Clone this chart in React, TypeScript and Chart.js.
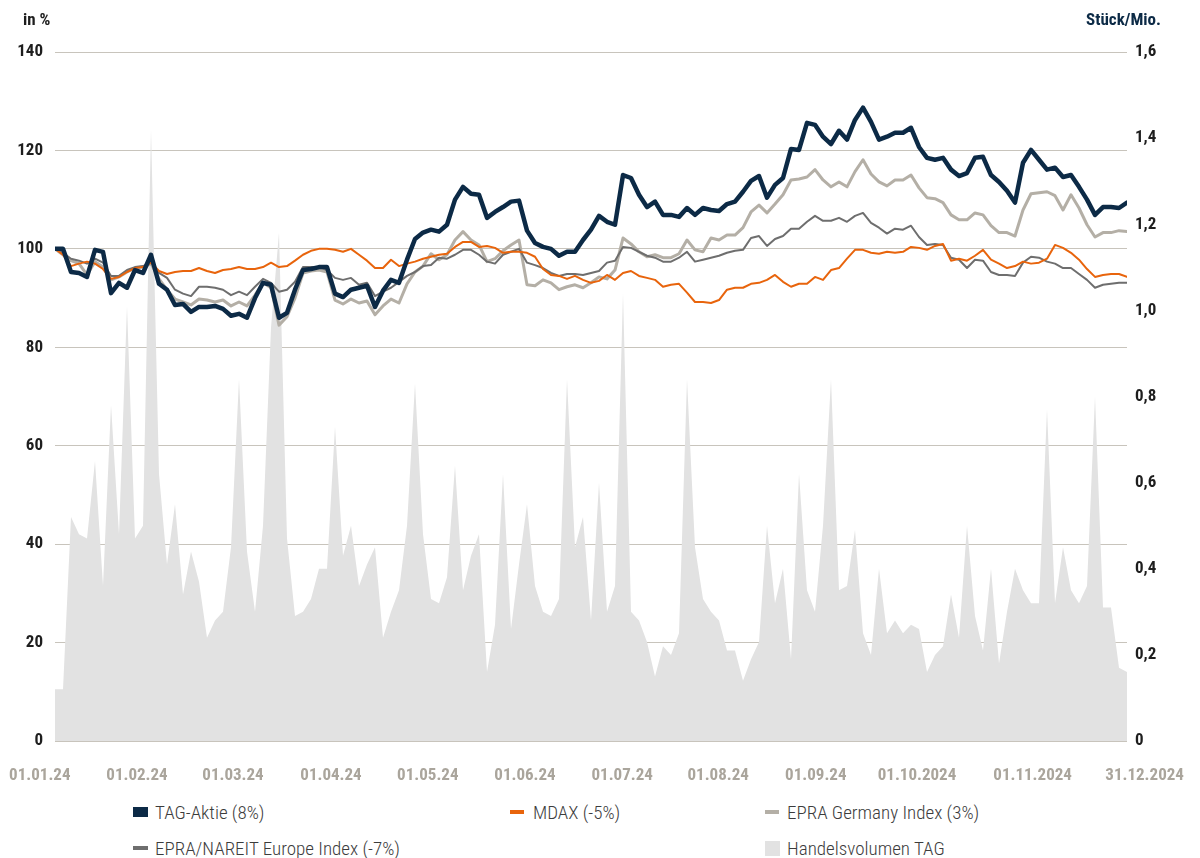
import React, { useEffect, useRef } from 'react';
import { Chart, registerables } from 'chart.js';

Chart.register(...registerables);

// ---------- data ----------
const xTickLabels = [
  '01.01.24', '01.02.24', '01.03.24', '01.04.24', '01.05.24', '01.06.24',
  '01.07.24', '01.08.24', '01.09.24', '01.10.2024', '01.11.2024', '31.12.2024',
];
// where each date label sits, in sample-index units
const xTickAt = [-1.9, 10.25, 22.25, 34.5, 46.6, 58.75, 70.9, 82.9, 95.1, 107.75, 122.2, 136.2];

const tagAktie = [
  100, 100, 95.3, 95.1, 94.3, 99.8, 99.4, 91.0, 93.1, 92.1,
  95.7, 95.1, 98.8, 92.9, 91.7, 88.6, 88.8, 87.2, 88.2, 88.2,
  88.4, 87.8, 86.4, 86.8, 86.0, 90.0, 93.1, 92.7, 86.0, 87.0,
  91.7, 95.7, 95.9, 96.3, 96.3, 90.9, 90.2, 91.7, 92.1, 92.5,
  88.2, 91.5, 93.7, 93.1, 97.8, 102.0, 103.3, 103.9, 103.5, 104.9,
  110.0, 112.6, 111.2, 111.0, 106.3, 107.5, 108.5, 109.6, 109.8, 103.7,
  101.2, 100.4, 100.0, 98.6, 99.4, 99.4, 101.8, 103.9, 106.7, 105.5,
  104.9, 115.0, 114.4, 111.0, 108.5, 109.6, 106.9, 106.9, 106.5, 108.3,
  106.9, 108.3, 107.9, 107.7, 109.1, 109.6, 111.6, 113.8, 114.8, 110.4,
  113.0, 114.4, 120.3, 120.1, 125.6, 125.2, 122.8, 121.3, 124.0, 122.2,
  126.2, 128.7, 125.8, 122.2, 122.8, 123.6, 123.6, 124.6, 120.7, 118.5,
  118.1, 118.5, 116.1, 114.8, 115.4, 118.5, 118.7, 115.0, 113.6, 111.8,
  109.4, 117.5, 120.1, 118.1, 116.1, 116.5, 114.6, 115.0, 112.6, 110.0,
  106.9, 108.5, 108.5, 108.3, 109.4,
];

const mdax = [
  100, 98.8, 96.5, 97.0, 97.4, 97.0, 95.9, 93.9, 94.3, 95.3,
  96.1, 96.3, 97.2, 95.5, 94.9, 95.3, 95.5, 95.5, 96.1, 95.5,
  95.1, 95.7, 95.9, 96.3, 95.9, 95.9, 96.3, 97.2, 96.3, 96.5,
  97.6, 98.8, 99.6, 100.0, 100.0, 99.8, 99.4, 100.0, 98.8, 97.6,
  96.1, 96.1, 97.8, 96.5, 97.0, 97.4, 98.0, 98.4, 98.8, 99.0,
  100.4, 101.4, 101.4, 100.4, 100.6, 100.2, 99.2, 99.4, 99.4, 99.2,
  98.4, 95.9, 94.7, 94.5, 93.9, 94.5, 93.7, 93.1, 93.5, 94.7,
  93.7, 95.1, 95.5, 94.5, 94.1, 93.7, 92.3, 92.7, 92.9, 91.1,
  89.2, 89.2, 89.0, 89.6, 91.7, 92.1, 92.1, 92.9, 93.1, 93.7,
  94.7, 93.3, 92.3, 92.9, 92.9, 94.3, 93.7, 95.7, 96.1, 98.0,
  99.8, 99.8, 99.2, 99.0, 99.4, 99.2, 99.4, 100.4, 100.2, 99.8,
  100.6, 101.0, 97.6, 98.0, 97.6, 98.6, 99.8, 97.8, 97.0, 96.1,
  96.5, 97.4, 97.0, 97.2, 98.0, 100.8, 100.2, 99.2, 97.8, 95.9,
  94.3, 94.7, 94.9, 94.9, 94.3,
];

const epraGermany = [
  100, 98.8, 97.6, 97.0, 94.7, 97.4, 96.3, 93.7, 94.3, 95.3,
  96.1, 96.3, 97.0, 93.9, 91.7, 89.8, 89.2, 88.6, 89.8, 89.6,
  89.2, 89.6, 88.4, 89.2, 88.4, 90.6, 93.1, 92.1, 84.5, 86.2,
  90.0, 95.1, 95.5, 95.7, 95.3, 89.6, 88.8, 89.8, 89.0, 89.4,
  86.6, 88.4, 89.8, 89.0, 92.9, 95.3, 96.5, 99.0, 97.8, 98.8,
  101.8, 103.5, 101.8, 100.8, 97.4, 98.0, 99.6, 100.8, 101.8, 92.7,
  92.5, 93.7, 93.1, 91.7, 92.3, 92.7, 92.1, 93.1, 94.3, 93.9,
  95.7, 102.2, 101.0, 99.4, 98.4, 98.8, 98.2, 98.2, 99.0, 101.8,
  99.8, 99.4, 102.2, 101.8, 102.8, 102.8, 104.3, 107.5, 108.9, 107.3,
  109.1, 111.0, 114.0, 114.2, 114.6, 116.1, 114.0, 112.6, 113.6, 112.6,
  115.7, 118.1, 115.2, 113.6, 112.8, 114.0, 114.0, 115.0, 112.4, 110.4,
  110.2, 109.4, 106.9, 105.9, 105.9, 107.3, 106.9, 104.7, 103.3, 103.3,
  102.6, 107.9, 111.2, 111.4, 111.6, 110.8, 107.9, 111.0, 108.3, 104.9,
  102.4, 103.3, 103.3, 103.7, 103.5,
];

const epraNareit = [
  100, 99.2, 98.0, 97.6, 97.0, 98.0, 97.2, 94.5, 94.5, 95.7,
  96.3, 96.5, 97.2, 95.1, 94.1, 91.7, 90.9, 90.4, 92.3, 92.3,
  92.1, 91.7, 90.6, 91.3, 90.6, 92.3, 93.9, 93.1, 91.3, 91.7,
  93.3, 96.3, 96.3, 96.3, 95.7, 94.1, 93.7, 94.1, 92.7, 93.1,
  90.4, 91.3, 92.1, 93.3, 94.5, 95.3, 96.5, 96.7, 98.2, 98.0,
  98.8, 99.8, 99.8, 98.8, 97.4, 97.0, 98.8, 99.4, 100.0, 97.2,
  96.7, 96.1, 95.1, 94.5, 94.9, 94.9, 94.7, 95.1, 95.5, 97.2,
  97.6, 100.4, 100.2, 99.4, 98.6, 98.2, 97.4, 97.4, 98.2, 99.4,
  97.4, 97.8, 98.2, 98.6, 99.2, 99.6, 99.8, 102.2, 102.6, 100.6,
  102.0, 102.6, 104.1, 104.1, 105.5, 106.7, 105.7, 105.7, 106.3, 105.5,
  106.7, 107.3, 105.3, 104.3, 103.1, 104.1, 103.9, 104.7, 102.4, 100.8,
  101.0, 100.8, 98.2, 97.8, 96.1, 97.8, 97.6, 95.3, 94.7, 94.7,
  94.5, 97.2, 98.4, 98.2, 97.4, 97.0, 96.1, 96.1, 94.9, 93.7,
  92.1, 92.7, 92.9, 93.1, 93.1,
];

// Handelsvolumen TAG, Stück/Mio.
const volumen = [
  0.12, 0.12, 0.52, 0.48, 0.47, 0.65, 0.36, 0.78, 0.48, 1.01,
  0.47, 0.50, 1.42, 0.62, 0.41, 0.55, 0.34, 0.44, 0.37, 0.24,
  0.28, 0.30, 0.45, 0.84, 0.44, 0.30, 0.50, 0.96, 1.18, 0.47,
  0.29, 0.30, 0.33, 0.40, 0.40, 0.73, 0.43, 0.50, 0.36, 0.41,
  0.45, 0.24, 0.30, 0.35, 0.50, 0.83, 0.48, 0.33, 0.32, 0.38,
  0.64, 0.35, 0.43, 0.48, 0.16, 0.27, 0.62, 0.26, 0.41, 0.55,
  0.36, 0.30, 0.29, 0.33, 0.84, 0.45, 0.52, 0.28, 0.60, 0.30,
  0.36, 1.04, 0.30, 0.28, 0.23, 0.15, 0.22, 0.20, 0.25, 0.84,
  0.45, 0.33, 0.30, 0.28, 0.21, 0.21, 0.14, 0.19, 0.23, 0.50,
  0.32, 0.40, 0.19, 0.62, 0.35, 0.30, 0.50, 0.84, 0.35, 0.36,
  0.49, 0.25, 0.20, 0.40, 0.25, 0.28, 0.25, 0.27, 0.26, 0.16,
  0.20, 0.22, 0.34, 0.24, 0.50, 0.29, 0.21, 0.40, 0.18, 0.30,
  0.40, 0.35, 0.32, 0.32, 0.77, 0.32, 0.45, 0.35, 0.32, 0.36,
  0.80, 0.31, 0.31, 0.17, 0.16,
];

const seriesNames = [
  'TAG-Aktie (8%)',
  'MDAX (-5%)',
  'EPRA Germany Index (3%)',
  'EPRA/NAREIT Europe Index (-7%)',
  'Handelsvolumen TAG',
];

// ---------- styles ----------
const FONT = "'Roboto Condensed', 'DejaVu Sans Condensed', 'Liberation Sans Narrow', 'Arial Narrow', Roboto, sans-serif";
const C_TAG = '#0c2a46';
const C_MDAX = '#e8640c';
const C_GER = '#b4afa6';
const C_NAR = '#6e6e6e';
const C_VOL = '#e2e2e2';

const W = 1200;
const CANVAS_H = 795;

export default function App() {
  const canvasRef = useRef<HTMLCanvasElement | null>(null);

  useEffect(() => {
    document.body.style.margin = '0';
    const canvas = canvasRef.current;
    if (!canvas) return;
    const labels = tagAktie.map((_, i) => i);
    const line = (label: string, data: number[], color: string, width: number, order: number) => ({
      type: 'line' as const,
      label,
      data,
      borderColor: color,
      backgroundColor: color,
      borderWidth: width,
      pointRadius: 0,
      tension: 0,
      fill: false,
      borderJoinStyle: 'round' as const,
      borderCapStyle: 'round' as const,
      yAxisID: 'y',
      order,
    });
    const chart = new Chart(canvas, {
      type: 'line',
      data: {
        labels,
        datasets: [
          line(seriesNames[0], tagAktie, C_TAG, 4.5, 0),
          line(seriesNames[1], mdax, C_MDAX, 2, 1),
          line(seriesNames[3], epraNareit, C_NAR, 2, 2),
          line(seriesNames[2], epraGermany, C_GER, 3, 3),
          {
            type: 'line',
            label: seriesNames[4],
            data: volumen,
            borderWidth: 0,
            borderColor: 'rgba(0,0,0,0)',
            backgroundColor: C_VOL,
            pointRadius: 0,
            tension: 0,
            fill: 'origin',
            yAxisID: 'y1',
            order: 10,
          },
        ],
      },
      options: {
        responsive: false,
        animation: false,
        layout: { padding: { top: 52, left: 0, right: 0, bottom: 0 } },
        plugins: {
          legend: { display: false },
          tooltip: { enabled: false },
        },
        scales: {
          x: {
            type: 'linear',
            min: 0,
            max: labels.length - 1,
            grid: { display: false, drawTicks: false },
            border: { display: false },
            afterBuildTicks: (s: any) => {
              s.ticks = xTickAt.map((v) => ({ value: v }));
            },
            afterFit: (s: any) => {
              s.paddingLeft = 0;
              s.paddingRight = 0;
              s.height = CANVAS_H - 741;
            },
            ticks: {
              autoSkip: false,
              maxRotation: 0,
              minRotation: 0,
              padding: 25,
              color: '#aaa59c',
              font: { family: FONT, size: 17, weight: 'bold' },
              callback: (_v: any, i: number) => xTickLabels[i],
            },
          },
          y: {
            position: 'left',
            min: 0,
            max: 140,
            grid: { color: '#c8c4bc', lineWidth: 1, drawTicks: false },
            border: { display: false },
            afterFit: (s: any) => {
              s.width = 55;
            },
            ticks: {
              stepSize: 20,
              padding: 12,
              color: '#1e1e1e',
              font: { family: FONT, size: 17, weight: 'bold' },
            },
          },
          y1: {
            position: 'right',
            min: 0,
            max: 1.6,
            grid: { display: false, drawTicks: false },
            border: { display: false },
            afterFit: (s: any) => {
              s.width = W - 1127;
            },
            ticks: {
              stepSize: 0.2,
              padding: 8,
              color: '#1e1e1e',
              font: { family: FONT, size: 17, weight: 'bold' },
              callback: (v: any) => {
                const n = Number(v);
                if (Math.abs(n) < 1e-9) return '0';
                return n.toFixed(1).replace('.', ',');
              },
            },
          },
        },
      },
    } as any);
    return () => chart.destroy();
  }, []);

  const legendText: React.CSSProperties = {
    fontFamily: FONT,
    fontSize: 19,
    fontWeight: 300,
    color: '#3c3c3c',
    whiteSpace: 'nowrap',
  };
  const item = (left: number, cy: number, marker: React.CSSProperties, gap: number, text: string) => (
    <div
      key={text}
      style={{ position: 'absolute', left, top: cy - 13, height: 26, display: 'flex', alignItems: 'center' }}
    >
      <div style={{ ...marker, marginRight: gap, flex: 'none' }} />
      <span style={legendText}>{text}</span>
    </div>
  );

  return (
    <div style={{ position: 'relative', width: W, height: 858, background: '#fff', overflow: 'hidden' }}>
      <canvas ref={canvasRef} width={W} height={CANVAS_H} style={{ display: 'block', width: W, height: CANVAS_H }} />
      <div
        style={{
          position: 'absolute', left: 23, top: 9, fontFamily: FONT, fontWeight: 700, fontSize: 17, color: '#1e1e1e',
        }}
      >
        in %
      </div>
      <div
        style={{
          position: 'absolute', right: 39, top: 9, fontFamily: FONT, fontWeight: 700, fontSize: 17, color: C_TAG,
        }}
      >
        Stück/Mio.
      </div>
      {item(133, 812, { width: 15, height: 10, background: C_TAG }, 7, seriesNames[0])}
      {item(510, 812, { width: 14, height: 4, background: C_MDAX }, 9, seriesNames[1])}
      {item(765, 812, { width: 14, height: 4, background: C_GER }, 8, seriesNames[2])}
      {item(133, 848, { width: 15, height: 4, background: C_NAR }, 7, seriesNames[3])}
      {item(765, 848, { width: 15, height: 15, background: C_VOL }, 7, seriesNames[4])}
    </div>
  );
}
